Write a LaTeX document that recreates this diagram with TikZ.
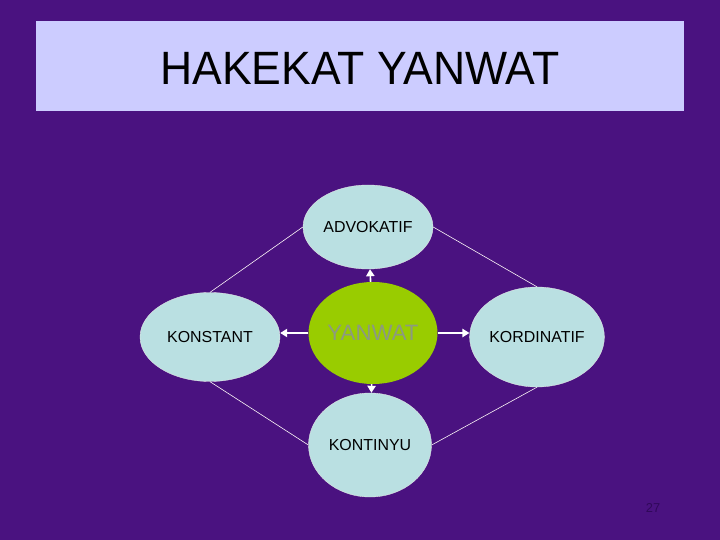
\documentclass[tikz,border=0pt]{standalone}
\usepackage{fontspec}
\setmainfont{Liberation Sans}
\usetikzlibrary{arrows.meta, shapes.geometric}
\definecolor{bgpurple}{HTML}{4A1280}
\definecolor{titlefill}{HTML}{CCCCFF}
\definecolor{bubble}{HTML}{BAE0E2}
\definecolor{core}{HTML}{99CC00}
\definecolor{coretext}{HTML}{8C9A80}
\definecolor{pagenum}{HTML}{30085A}
\tikzset{bubble/.style = {ellipse, fill = bubble, draw = white!80!gray, line width = 0.3pt,
    inner sep = 0pt, font = \fontsize{13.6}{15}\selectfont}}
\tikzset{link/.style = {draw = white!90!pink, line width = 0.5pt}}
\tikzset{push/.style = {draw = white, line width = 1.4pt, -{Triangle[width = 7pt, length = 6pt]}}}

\begin{document}
\begin{tikzpicture}[x = 0.03cm, y = -0.03cm]
\fill[bgpurple] (0,0) rectangle (720,540);
\useasboundingbox (0,0) rectangle (720,540);
% title bar
\fill[titlefill] (36,21) rectangle (684,111);
\node[yscale = 1.05] (title) at (360,68) {\fontsize{38}{42}\selectfont HAKEKAT YANWAT};
% the five bubbles
\node[bubble, minimum width = 3.9cm, minimum height = 2.52cm] (advokatif) at (368,227) {ADVOKATIF};
\node[ellipse, fill = core, inner sep = 0pt, minimum width = 3.87cm, minimum height = 3.06cm,
    text = coretext, font = \fontsize{19}{22}\selectfont] (yanwat) at (373,333) {YANWAT};
\node[bubble, minimum width = 4.2cm, minimum height = 2.67cm] (konstant) at (210,337) {KONSTANT};
\node[bubble, minimum width = 3.84cm, minimum height = 3cm] (kordinatif) at (537,337) {KORDINATIF};
\node[bubble, minimum width = 3.69cm, minimum height = 3.12cm] (kontinyu) at (370,445) {KONTINYU};
% outer ring
\draw[link] (konstant.north) -- (advokatif.west);
\draw[link] (advokatif.east) -- (kordinatif.north);
\draw[link] (konstant.south) -- (kontinyu.west);
\draw[link] (kontinyu.east) -- (kordinatif.south);
% arrows from the centre
\draw[push] (yanwat) -- (advokatif);
\draw[push] (yanwat.west) -- (yanwat.west -| konstant.east);
\draw[push] (yanwat.east) -- (yanwat.east -| kordinatif.west);
\draw[push] (yanwat) -- (kontinyu);
\node[text = pagenum, font = \fontsize{11}{12}\selectfont] (page) at (653,508) {27};
\end{tikzpicture}
\end{document}
